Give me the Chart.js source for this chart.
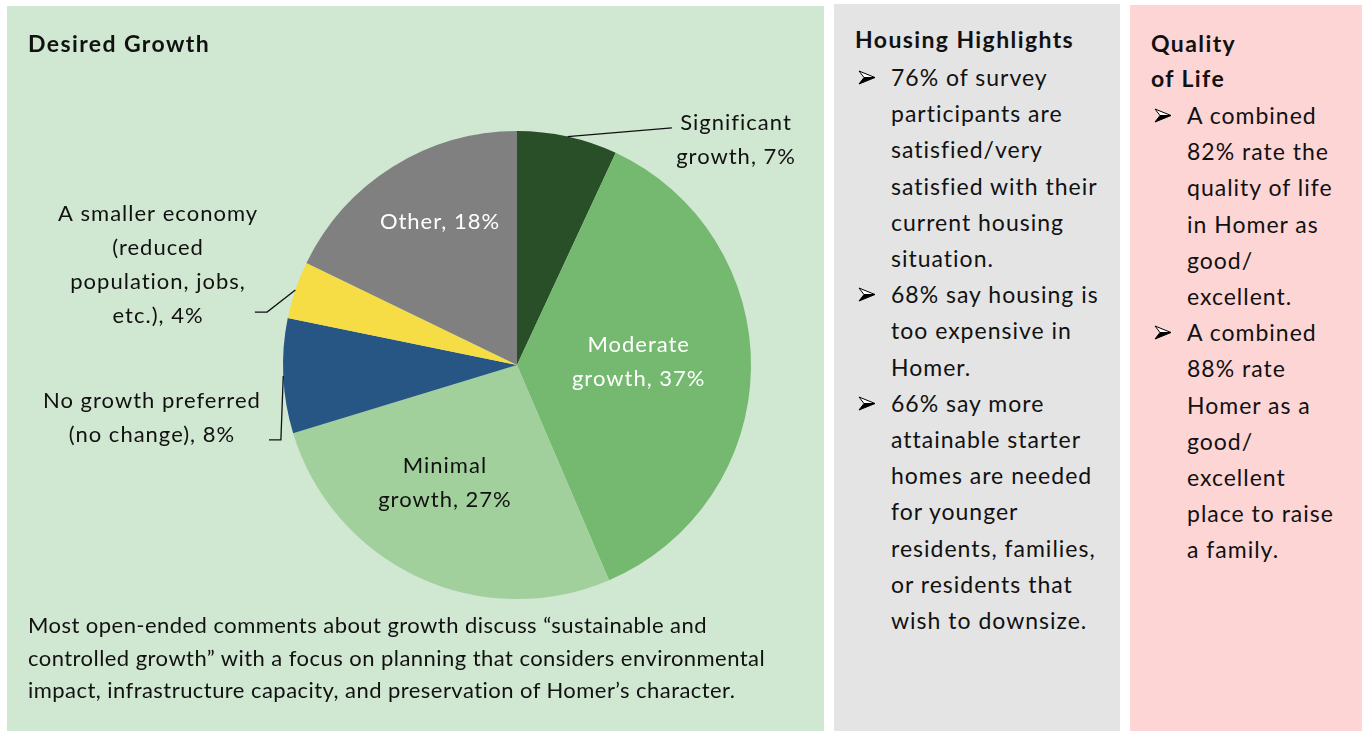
<!DOCTYPE html>
<html>
<head>
<meta charset="utf-8">
<script src="https://cdn.jsdelivr.net/npm/chart.js@4"></script>
<style>
  body { margin: 0; width: 1362px; height: 731px; background: #fff; position: relative; overflow: hidden; font-family: "Lato", "Noto Sans", sans-serif; color: #111; }
  .panel { position: absolute; }
  #growth { left: 7px; top: 6px; width: 817px; height: 725px; background: #d0e7d1; }
  #housing { left: 834px; top: 4px; width: 286px; height: 727px; background: #e4e4e4; }
  #quality { left: 1130px; top: 5px; width: 232px; height: 726px; background: #fdd5d5; }
  #growth canvas { position: absolute; left: 0; top: 0; }
  .title { position: absolute; font-weight: bold; font-size: 23px; letter-spacing: 1.4px; white-space: nowrap; }
  .note { position: absolute; left: 21px; top: 603px; font-size: 22px; letter-spacing: 0.45px; line-height: 32.5px; white-space: nowrap; }
  .list { position: absolute; font-size: 23px; letter-spacing: 1px; line-height: 36.2px; white-space: nowrap; }
  .item { position: relative; padding-left: 36px; }
  .item::before {
    content: ""; position: absolute; left: 3px; top: 11px; width: 18px; height: 15px;
    background: url("data:image/svg+xml;utf8,<svg xmlns='http://www.w3.org/2000/svg' width='18' height='15' viewBox='0 0 18 15'><path d='M1 1 L17 7.5 L6 7.5 Z' fill='white' stroke='black' stroke-width='1' stroke-linejoin='round'/><path d='M1 14 L17 7.5 L6 7.5 Z' fill='black' stroke='black' stroke-width='1' stroke-linejoin='round'/></svg>") no-repeat;
  }
</style>
</head>
<body>
<div class="panel" id="growth">
  <canvas id="pie" width="817" height="725"></canvas>
  <div class="title" style="left:21px; top:23px;">Desired Growth</div>
  <div class="note">Most open-ended comments about growth discuss “sustainable and<br>controlled growth” with a focus on planning that considers environmental<br>impact, infrastructure capacity, and preservation of Homer’s character.</div>
</div>
<div class="panel" id="housing">
  <div class="title" style="left:21px; top:21px;">Housing Highlights</div>
  <div class="list" style="left:21px; top:55px;">
    <div class="item">76% of survey<br>participants are<br>satisfied/very<br>satisfied with their<br>current housing<br>situation.</div>
    <div class="item">68% say housing is<br>too expensive in<br>Homer.</div>
    <div class="item">66% say more<br>attainable starter<br>homes are needed<br>for younger<br>residents, families,<br>or residents that<br>wish to downsize.</div>
  </div>
</div>
<div class="panel" id="quality">
  <div class="title" style="left:21px; top:21px; line-height:35px;">Quality<br>of Life</div>
  <div class="list" style="left:21px; top:92px;">
    <div class="item">A combined<br>82% rate the<br>quality of life<br>in Homer as<br>good/<br>excellent.</div>
    <div class="item">A combined<br>88% rate<br>Homer as a<br>good/<br>excellent<br>place to raise<br>a family.</div>
  </div>
</div>
<script>
// Desired growth survey results (%)
const categories = [
  "Significant\ngrowth",
  "Moderate\ngrowth",
  "Minimal\ngrowth",
  "No growth preferred\n(no change)",
  "A smaller economy\n(reduced\npopulation, jobs,\netc.)",
  "Other"
];
const values = [7, 37, 27, 8, 4, 18];
const colors = ["#284f28", "#74b96f", "#a2d09c", "#275685", "#f7dd45", "#808080"];

// label placement, in units of the pie radius from its centre
const labelLayout = [
  { at: [0.936, -0.962], color: "#111", leader: [[0.662, -1.013]] },
  { at: [0.52, -0.013], color: "#fff" },
  { at: [-0.308, 0.504], color: "#111" },
  { at: [-1.56, 0.226], color: "#111", leader: [[-1.009, 0.32], [-1.06, 0.32]] },
  { at: [-1.534, -0.427], color: "#111", leader: [[-1.068, -0.226], [-1.12, -0.226]] },
  { at: [-0.329, -0.611], color: "#fff" }
];

const pieLabels = {
  id: "pieLabels",
  afterDatasetsDraw(chart) {
    const ctx = chart.ctx;
    const meta = chart.getDatasetMeta(0);
    ctx.save();
    ctx.font = "22px Lato, 'Noto Sans', sans-serif";
    ctx.letterSpacing = "1px";
    ctx.textAlign = "center";
    ctx.textBaseline = "middle";
    meta.data.forEach((arc, i) => {
      const cx = arc.x, cy = arc.y, r = arc.outerRadius;
      const lay = labelLayout[i];
      if (lay.leader) {
        const mid = (arc.startAngle + arc.endAngle) / 2;
        ctx.beginPath();
        ctx.moveTo(cx + Math.cos(mid) * r, cy + Math.sin(mid) * r);
        lay.leader.forEach(p => ctx.lineTo(cx + p[0] * r, cy + p[1] * r));
        ctx.strokeStyle = "#111";
        ctx.lineWidth = 1.3;
        ctx.stroke();
      }
      const lines = (categories[i] + ", " + values[i] + "%").split("\n");
      const lh = 34;
      const x = cx + lay.at[0] * r;
      const y0 = cy + lay.at[1] * r - (lines.length - 1) * lh / 2;
      ctx.fillStyle = lay.color;
      lines.forEach((t, k) => ctx.fillText(t, x, y0 + k * lh));
    });
    ctx.restore();
  }
};

new Chart(document.getElementById("pie"), {
  type: "pie",
  data: {
    labels: categories,
    datasets: [{ data: values, backgroundColor: colors, borderWidth: 0 }]
  },
  options: {
    responsive: false,
    animation: false,
    layout: { padding: { left: 276, right: 73, top: 125, bottom: 132 } },
    plugins: { legend: { display: false }, tooltip: { enabled: false } }
  },
  plugins: [pieLabels]
});
</script>
</body>
</html>
